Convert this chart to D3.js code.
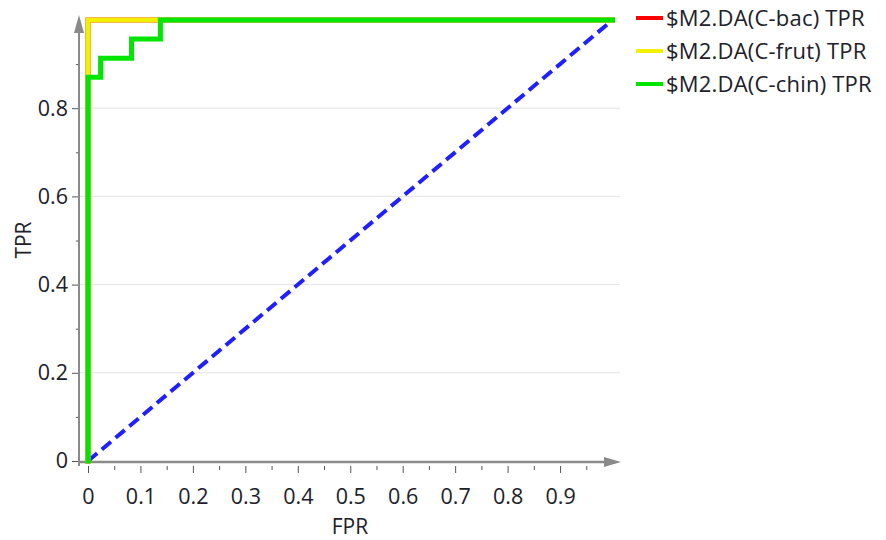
<!DOCTYPE html>
<html>
<head>
<meta charset="utf-8">
<script src="https://cdn.jsdelivr.net/npm/d3@7"></script>
<style>
  html, body { margin: 0; padding: 0; background: #fff; }
  svg { display: block; }
  text { font-family: "Open Sans", "Noto Sans", sans-serif; }
</style>
</head>
<body>
<svg id="chart" width="886" height="540"></svg>
<script>
// ROC curves: false positive rate vs true positive rate
const seriesNames = ["$M2.DA(C-bac) TPR", "$M2.DA(C-frut) TPR", "$M2.DA(C-chin) TPR"];
const seriesColors = ["#ff0000", "#f0f000", "#00e600"];

const bacFPR = [0, 0, 1];
const bacTPR = [0, 1, 1];

const frutFPR = [0, 0, 1];
const frutTPR = [0, 1, 1];

const chinFPR = [0, 0, 0.024, 0.024, 0.083, 0.083, 0.138, 0.138, 1];
const chinTPR = [0, 0.87, 0.87, 0.913, 0.913, 0.957, 0.957, 1, 1];

const chanceFPR = [0, 1];
const chanceTPR = [0, 1];

const xMajorTicks = [0, 0.1, 0.2, 0.3, 0.4, 0.5, 0.6, 0.7, 0.8, 0.9];
const xMinorTicks = [0.05, 0.15, 0.25, 0.35, 0.45, 0.55, 0.65, 0.75, 0.85, 0.95];
const yMajorTicks = [0, 0.2, 0.4, 0.6, 0.8];
const yMinorTicks = [0.1, 0.3, 0.5, 0.7, 0.9];

const svg = d3.select("#chart");
const x = d3.scaleLinear().domain([0, 1]).range([88, 612.5]);
const y = d3.scaleLinear().domain([0, 1]).range([461, 20]);

const axisX = 79;   // vertical axis line position
const axisY = 462;  // horizontal axis line position
const axisColor = "#8a8a8a";
const textColor = "#20202a";

// horizontal grid
svg.append("g").selectAll("line").data(yMajorTicks.filter(d => d > 0)).join("line")
  .attr("x1", axisX).attr("x2", 620)
  .attr("y1", d => y(d)).attr("y2", d => y(d))
  .attr("stroke", "#e3e3e3").attr("stroke-width", 1);

// y axis: major and minor ticks
const yAxisMajor = d3.axisLeft(y).tickValues(yMajorTicks).tickSize(7).tickPadding(4)
  .tickFormat(d => d === 0 ? "0" : d3.format(".1f")(d));
const yAxisMinor = d3.axisLeft(y).tickValues(yMinorTicks).tickSize(3).tickFormat("");
const gy = svg.append("g").attr("transform", `translate(${axisX},0)`).call(yAxisMajor);
const gy2 = svg.append("g").attr("transform", `translate(${axisX},0)`).call(yAxisMinor);

// x axis: major and minor ticks
const xAxisMajor = d3.axisBottom(x).tickValues(xMajorTicks).tickSize(11).tickPadding(18)
  .tickFormat(d => d === 0 ? "0" : d3.format(".1f")(d));
const xAxisMinor = d3.axisBottom(x).tickValues(xMinorTicks).tickSize(8).tickFormat("");
const gx = svg.append("g").attr("transform", `translate(0,${axisY})`).call(xAxisMajor);
const gx2 = svg.append("g").attr("transform", `translate(0,${axisY})`).call(xAxisMinor);

[gy, gy2, gx, gx2].forEach(g => {
  g.select(".domain").remove();
  g.selectAll(".tick line").attr("stroke", "#555").attr("stroke-width", 1);
  g.selectAll(".tick text").attr("fill", textColor).style("font-size", "21.5px")
    .style("font-family", "'Open Sans', 'Noto Sans', sans-serif");
});
gx.selectAll(".tick line").attr("y1", 4);
gx2.selectAll(".tick line").attr("y1", 4);
gx.selectAll(".tick text").attr("dy", 0).attr("y", 42);

// axis lines with arrow heads
svg.append("line").attr("x1", axisX).attr("x2", axisX).attr("y1", axisY + 4).attr("y2", 28)
  .attr("stroke", axisColor).attr("stroke-width", 2);
svg.append("path").attr("d", `M${axisX},15 L${axisX - 5},33 L${axisX + 5},33 Z`).attr("fill", axisColor);
svg.append("line").attr("x1", axisX).attr("x2", 610).attr("y1", axisY).attr("y2", axisY)
  .attr("stroke", axisColor).attr("stroke-width", 2.5);
svg.append("path").attr("d", `M621,${axisY} L604,${axisY - 5} L604,${axisY + 5} Z`).attr("fill", axisColor);

// axis titles
svg.append("text").attr("x", 350).attr("y", 534).attr("text-anchor", "middle")
  .attr("fill", textColor).style("font-size", "21px").text("FPR");
svg.append("text").attr("transform", "translate(31,240) rotate(-90)").attr("text-anchor", "middle")
  .attr("fill", textColor).style("font-size", "21px").text("TPR");

const line = d3.line().x(d => x(d[0])).y(d => y(d[1]));
const zip = (a, b) => a.map((v, i) => [v, b[i]]);

// chance diagonal
svg.append("path").datum(zip(chanceFPR, chanceTPR)).attr("d", line)
  .attr("fill", "none").attr("stroke", "#1f1fff").attr("stroke-width", 4)
  .attr("stroke-dasharray", "12,6");

// ROC curves
const curves = [zip(bacFPR, bacTPR), zip(frutFPR, frutTPR), zip(chinFPR, chinTPR)];
svg.append("g").selectAll("path").data(curves).join("path")
  .attr("d", line).attr("fill", "none")
  .attr("stroke", (d, i) => seriesColors[i]).attr("stroke-width", 5)
  .attr("stroke-linejoin", "miter").attr("stroke-linecap", "square");

// legend
const legend = svg.append("g").selectAll("g").data(seriesNames).join("g")
  .attr("transform", (d, i) => `translate(636,${18 + i * 33})`);
legend.append("line").attr("x1", 0).attr("x2", 27).attr("y1", 0).attr("y2", 0)
  .attr("stroke", (d, i) => seriesColors[i]).attr("stroke-width", 4);
legend.append("text").attr("x", 30).attr("y", 0).attr("dy", "0.35em")
  .attr("fill", textColor).style("font-size", "22px").style("letter-spacing", "0.2px")
  .text(d => d);
</script>
</body>
</html>
